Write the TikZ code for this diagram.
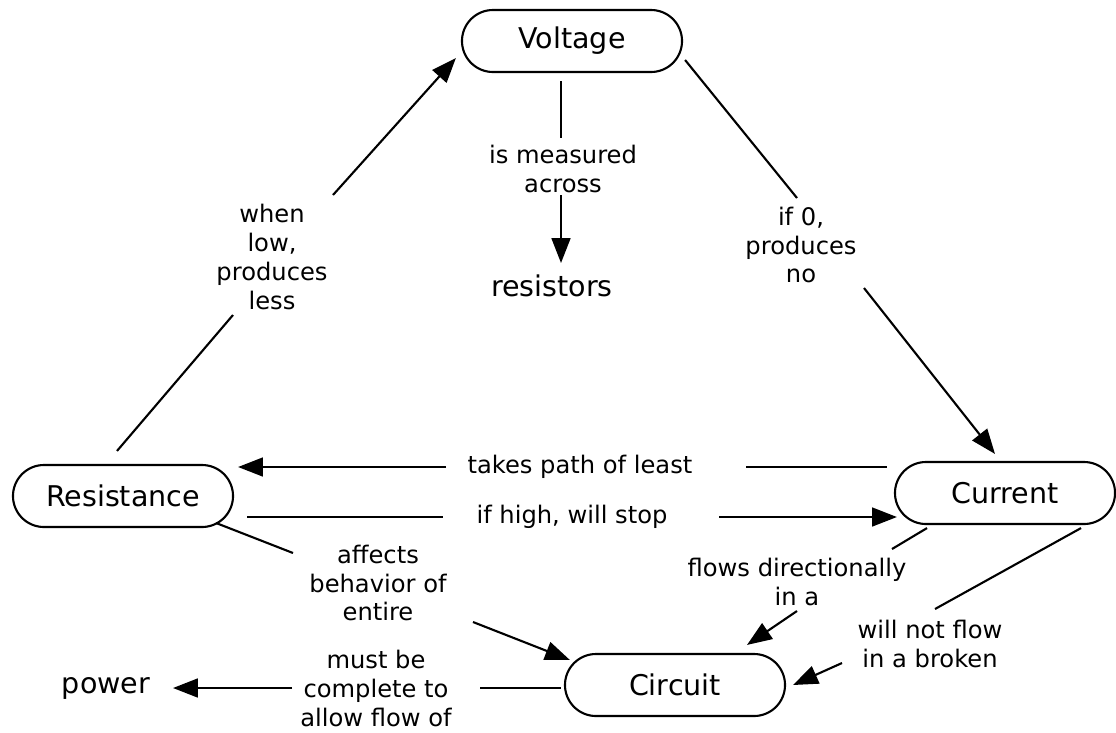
\documentclass[tikz,border=0pt]{standalone}
\usepackage{fontspec}
\setmainfont{DejaVu Sans}
\usetikzlibrary{arrows.meta,shapes.misc}
\newcommand{\conceptfont}{\fontsize{20.3}{24}\selectfont}
\newcommand{\phrasefont}{\fontsize{17.2}{20.6}\selectfont}

\begin{document}
\begin{tikzpicture}[x=0.025cm, y=-0.025cm,
  concept/.style={draw, rounded rectangle, line width=1.5pt,
    minimum width=5.5cm, minimum height=1.55cm, inner sep=0pt, font=\conceptfont},
  bare/.style={inner sep=0pt, font=\conceptfont},
  phrase/.style={align=center, inner sep=0pt, font=\phrasefont},
  link/.style={line width=1.5pt},
  linkto/.style={link, -{Triangle[length=0.62cm, width=0.47cm]}}]
\useasboundingbox (0,0) rectangle (1116,732);

% concepts
\node[concept] (volt) at (572,41) {Voltage};
\node[concept] (res) at (123,496) {Resistance};
\node[concept] (cur) at (1005,493) {Current};
\node[concept] (circ) at (675,685) {Circuit};
\node[bare] (rst) at (552,286) {resistors};
\node[bare] (pow) at (106,688) {power};

% linking phrases
\node[phrase] (meas) at (563,169) {is measured\\across};
\node[phrase] (low) at (272,257) {when\\low,\\produces\\less};
\node[phrase] (zero) at (801,245) {if 0,\\produces\\no};
\node[phrase] (least) at (580,467) {takes path of least};
\node[phrase] (stop) at (572,517) {if high, will stop};
\node[phrase] (ent) at (378,583) {affects\\behavior of\\entire};
\node[phrase] (dir) at (797,582) {flows directionally\\in a};
\node[phrase] (brk) at (930,644) {will not flow\\in a broken};
\node[phrase] (flow) at (376,688) {must be\\complete to\\allow flow of};

% Voltage -> resistors
\draw[link] ([shift={(-11,8)}]volt.south) -- ([shift={(-2,-31)}]meas.center);
\draw[linkto] ([shift={(-2,26)}]meas.center) -- ([shift={(9,-23)}]rst.center);
% Resistance -> Voltage
\draw[link] ([shift={(-6,-13)}]res.north) -- ([shift={(-39,58)}]low.center);
\draw[linkto] ([shift={(61,-62)}]low.center) -- ([shift={(-5,17)}]volt.west);
% Voltage -> Current
\draw[link] ([shift={(2,19)}]volt.east) -- ([shift={(-4,-47)}]zero.center);
\draw[linkto] ([shift={(63,43)}]zero.center) -- ([shift={(-10,-7)}]cur.north);
% Current -> Resistance
\draw[link] ([shift={(-7,-26)}]cur.west) -- ([shift={(166,0)}]least.center);
\draw[linkto] ([shift={(-134,0)}]least.center) -- ([shift={(4,-29)}]res.east);
% Resistance -> Current
\draw[link] ([shift={(13,21)}]res.east) -- ([shift={(-129,0)}]stop.center);
\draw[linkto] ([shift={(147,0)}]stop.center) -- ([shift={(3,24)}]cur.west);
% Resistance -> Circuit
\draw[link] ([shift={(-18,27)}]res.east) -- ([shift={(-85,-30)}]ent.center);
\draw[linkto] ([shift={(95,39)}]ent.center) -- ([shift={(6,-25)}]circ.west);
% Current -> Circuit
\draw[link] ([shift={(-78,3)}]cur.south) -- ([shift={(95,-33)}]dir.center);
\draw[linkto] ([shift={(0,29)}]dir.center) -- ([shift={(72,-8)}]circ.north);
\draw[link] ([shift={(76,3)}]cur.south) -- ([shift={(5,-35)}]brk.center);
\draw[linkto] ([shift={(-88,19)}]brk.center) -- ([shift={(7,0)}]circ.east);
% Circuit -> power
\draw[link] ([shift={(-3,3)}]circ.west) -- ([shift={(104,0)}]flow.center);
\draw[linkto] ([shift={(-84,0)}]flow.center) -- ([shift={(67,0)}]pow.center);
\end{tikzpicture}
\end{document}
